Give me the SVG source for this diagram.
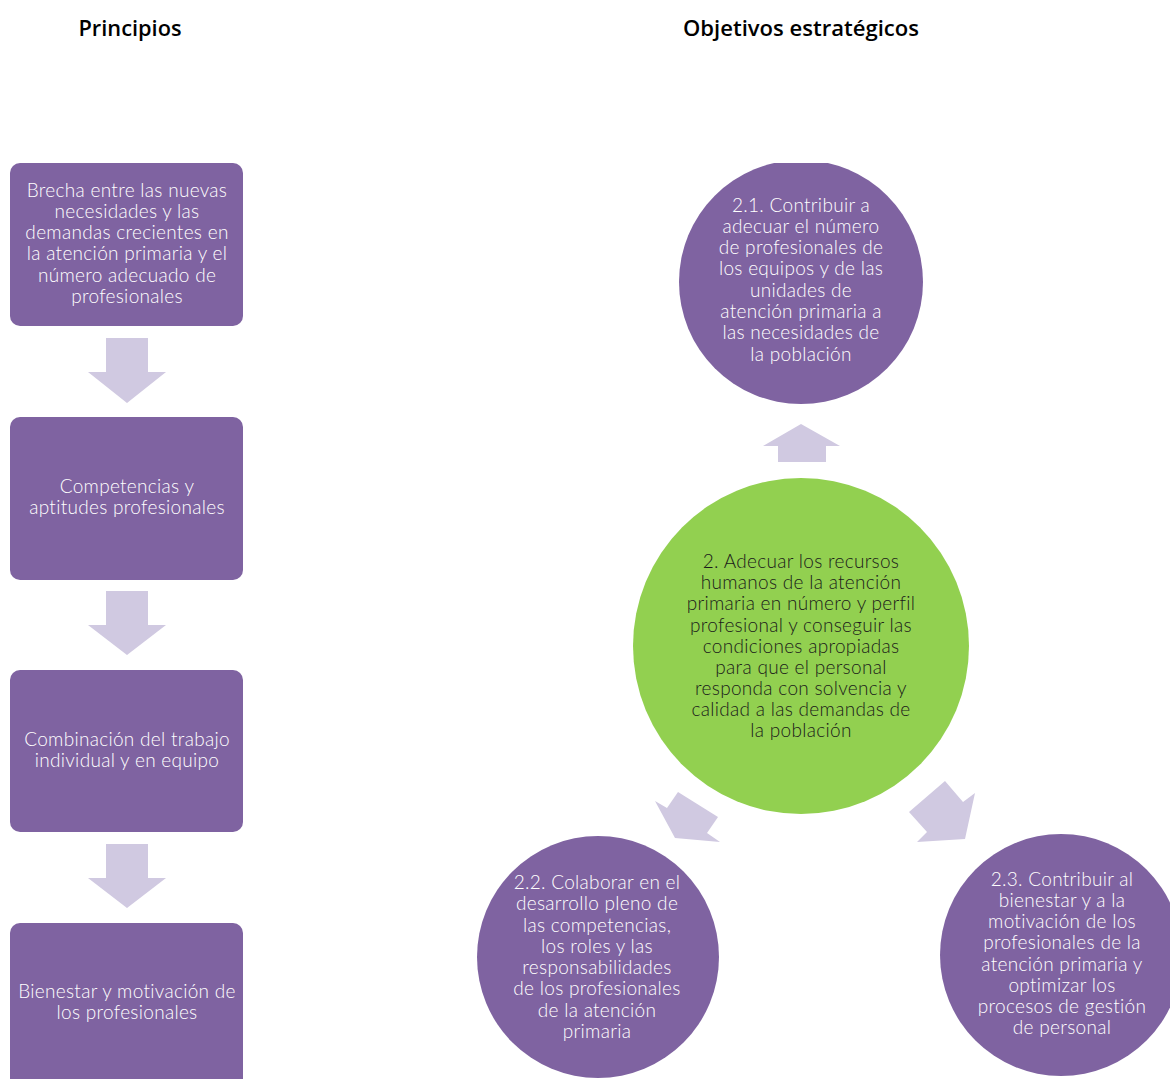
<svg xmlns="http://www.w3.org/2000/svg" width="1170" height="1079" viewBox="0 0 1170 1079">
<style>
.box{fill:#7f63a1;}
.circ{fill:#7f63a1;}
.green{fill:#92d050;}
.arrow{fill:#d0c9e1;}
.t{font-family:Lato,"Open Sans","Liberation Sans",sans-serif;font-weight:300;font-size:19px;letter-spacing:0.3px;fill:#ffffff;text-anchor:middle;}
.td{fill:#1a1a1a;}
.h{font-family:"Open Sans","Liberation Sans",sans-serif;font-weight:600;font-size:22px;fill:#000;text-anchor:middle;}
</style>
<defs>
<clipPath id="c21"><rect x="0" y="163" width="1170" height="900"/></clipPath>
</defs>
<rect width="1170" height="1079" fill="#ffffff"/>
<text class="h" x="130" y="36" textLength="103" lengthAdjust="spacingAndGlyphs">Principios</text>
<text class="h" x="801" y="36" textLength="236" lengthAdjust="spacingAndGlyphs">Objetivos estratégicos</text>

<g id="connectors">
<polygon class="arrow" points="106,338 148,338 148,372 166,372 127,403 88,372 106,372"/>
<polygon class="arrow" points="106,591 148,591 148,625 166,625 127,655 88,625 106,625"/>
<polygon class="arrow" points="106,844 148,844 148,878 166,878 127,908 88,878 106,878"/>
<polygon class="arrow" points="801,424 840,446 826,446 826,462 778,462 778,446 763,446"/>
<polygon class="arrow" points="678,792 718,817 707,833 720,842 675,838 655,801 667,808"/>
<polygon class="arrow" points="909,812 945,781 963,802 975,793 965,839 917,842 927,832"/>
</g>

<g id="p1">
<rect class="box" x="10" y="163" width="233" height="163" rx="10"/>
<text class="t" x="127" y="197">Brecha entre las nuevas</text>
<text class="t" x="127" y="218">necesidades y las</text>
<text class="t" x="127" y="239">demandas crecientes en</text>
<text class="t" x="127" y="260">la atención primaria y el</text>
<text class="t" x="127" y="282">número adecuado de</text>
<text class="t" x="127" y="303">profesionales</text>
</g>
<g id="p2">
<rect class="box" x="10" y="417" width="233" height="163" rx="10"/>
<text class="t" x="127" y="493">Competencias y</text>
<text class="t" x="127" y="514">aptitudes profesionales</text>
</g>
<g id="p3">
<rect class="box" x="10" y="670" width="233" height="162" rx="10"/>
<text class="t" x="127" y="746">Combinación del trabajo</text>
<text class="t" x="127" y="767">individual y en equipo</text>
</g>
<g id="p4">
<rect class="box" x="10" y="923" width="233" height="170" rx="10"/>
<text class="t" x="127" y="998">Bienestar y motivación de</text>
<text class="t" x="127" y="1019">los profesionales</text>
</g>

<g id="o21">
<circle class="circ" cx="801" cy="282" r="122" clip-path="url(#c21)"/>
<text class="t" x="801" y="212">2.1. Contribuir a</text>
<text class="t" x="801" y="233">adecuar el número</text>
<text class="t" x="801" y="254">de profesionales de</text>
<text class="t" x="801" y="275">los equipos y de las</text>
<text class="t" x="801" y="297">unidades de</text>
<text class="t" x="801" y="318">atención primaria a</text>
<text class="t" x="801" y="339">las necesidades de</text>
<text class="t" x="801" y="361">la población</text>
</g>

<g id="o2">
<circle class="green" cx="801" cy="646" r="168"/>
<text class="t td" x="801" y="568">2. Adecuar los recursos</text>
<text class="t td" x="801" y="589">humanos de la atención</text>
<text class="t td" x="801" y="610">primaria en número y perfil</text>
<text class="t td" x="801" y="632">profesional y conseguir las</text>
<text class="t td" x="801" y="653">condiciones apropiadas</text>
<text class="t td" x="801" y="674">para que el personal</text>
<text class="t td" x="801" y="695">responda con solvencia y</text>
<text class="t td" x="801" y="716">calidad a las demandas de</text>
<text class="t td" x="801" y="737">la población</text>
</g>

<g id="o22">
<circle class="circ" cx="598" cy="957" r="121"/>
<text class="t" x="597" y="889">2.2. Colaborar en el</text>
<text class="t" x="597" y="910">desarrollo pleno de</text>
<text class="t" x="597" y="932">las competencias,</text>
<text class="t" x="597" y="953">los roles y las</text>
<text class="t" x="597" y="974">responsabilidades</text>
<text class="t" x="597" y="995">de los profesionales</text>
<text class="t" x="597" y="1017">de la atención</text>
<text class="t" x="597" y="1038">primaria</text>
</g>

<g id="o23">
<circle class="circ" cx="1061" cy="955" r="121"/>
<text class="t" x="1062" y="886">2.3. Contribuir al</text>
<text class="t" x="1062" y="907">bienestar y a la</text>
<text class="t" x="1062" y="928">motivación de los</text>
<text class="t" x="1062" y="949">profesionales de la</text>
<text class="t" x="1062" y="971">atención primaria y</text>
<text class="t" x="1062" y="992">optimizar los</text>
<text class="t" x="1062" y="1013">procesos de gestión</text>
<text class="t" x="1062" y="1034">de personal</text>
</g>
</svg>
